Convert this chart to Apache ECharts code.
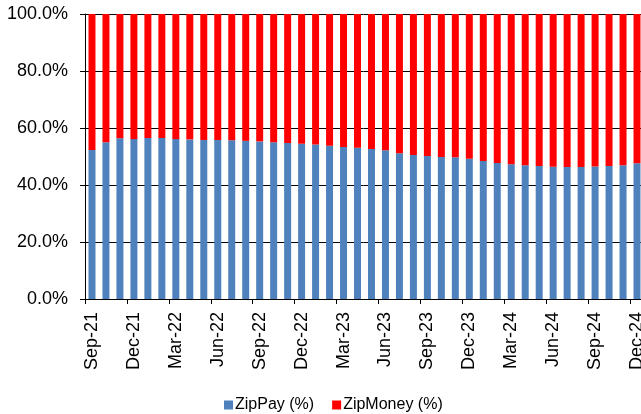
<!DOCTYPE html>
<html>
<head>
<meta charset="utf-8">
<script src="https://cdn.jsdelivr.net/npm/echarts@6/dist/echarts.min.js"></script>
<style>
html,body{margin:0;padding:0;background:#fff;}
#c{width:641px;height:414px;}
</style>
</head>
<body>
<div id="c"></div>
<script>
const categories = ['Sep-21','Oct-21','Nov-21','Dec-21','Jan-22','Feb-22','Mar-22','Apr-22','May-22','Jun-22','Jul-22','Aug-22','Sep-22','Oct-22','Nov-22','Dec-22','Jan-23','Feb-23','Mar-23','Apr-23','May-23','Jun-23','Jul-23','Aug-23','Sep-23','Oct-23','Nov-23','Dec-23','Jan-24','Feb-24','Mar-24','Apr-24','May-24','Jun-24','Jul-24','Aug-24','Sep-24','Oct-24','Nov-24','Dec-24'];
const zipPay = [52.3,55.0,56.4,56.1,56.5,56.5,56.1,56.0,55.8,55.8,55.7,55.5,55.3,55.0,54.7,54.5,54.2,53.8,53.3,53.1,52.6,52.2,51.1,50.5,50.2,49.8,49.7,49.2,48.4,47.7,47.3,46.9,46.7,46.4,46.3,46.3,46.5,46.7,46.9,47.6];
const zipMoney = [47.7,45.0,43.6,43.9,43.5,43.5,43.9,44.0,44.2,44.2,44.3,44.5,44.7,45.0,45.3,45.5,45.8,46.2,46.7,46.9,47.4,47.8,48.9,49.5,49.8,50.2,50.3,50.8,51.6,52.3,52.7,53.1,53.3,53.6,53.7,53.7,53.5,53.3,53.1,52.4];
const yTicks = [0,20,40,60,80,100];

const chart = echarts.init(document.getElementById('c'), null, {renderer:'canvas'});
const font = 'Liberation Sans, Arial, sans-serif';
chart.setOption({
  animation:false,
  grid:{left:85,width:559,top:14,height:285,containLabel:false,outerBoundsMode:'none'},
  legend:{
    data:['ZipPay (%)','ZipMoney (%)'],
    left:224, top:396, padding:0,
    itemWidth:9, itemHeight:9, itemGap:18,
    icon:'rect',
    textStyle:{fontFamily:font,fontSize:16,color:'#000',padding:[0,0,0,-3],lineHeight:18}
  },
  xAxis:{
    type:'category',
    data:categories,
    boundaryGap:true,
    axisLine:{show:true,lineStyle:{color:'#000',width:1}},
    axisTick:{show:true,interval:2,length:5,lineStyle:{color:'#000'}},
    axisLabel:{interval:2,rotate:90,margin:13,fontFamily:font,fontSize:18,color:'#000'},
    splitLine:{show:false}
  },
  yAxis:{
    type:'value',
    min:yTicks[0], max:yTicks[yTicks.length-1], interval:20,
    axisLine:{show:true,lineStyle:{color:'#000',width:1}},
    axisTick:{show:true,length:5,lineStyle:{color:'#000'}},
    axisLabel:{margin:17,fontFamily:font,fontSize:18,color:'#000',formatter:v=>v.toFixed(1)+'%'},
    splitLine:{show:true,lineStyle:{color:'#000',width:1}}
  },
  series:[
    {name:'ZipPay (%)',type:'bar',stack:'s',data:zipPay,barWidth:'50%',itemStyle:{color:'#4F81BD'}},
    {name:'ZipMoney (%)',type:'bar',stack:'s',data:zipMoney,barWidth:'50%',itemStyle:{color:'#FF0000'}}
  ]
});
</script>
</body>
</html>
